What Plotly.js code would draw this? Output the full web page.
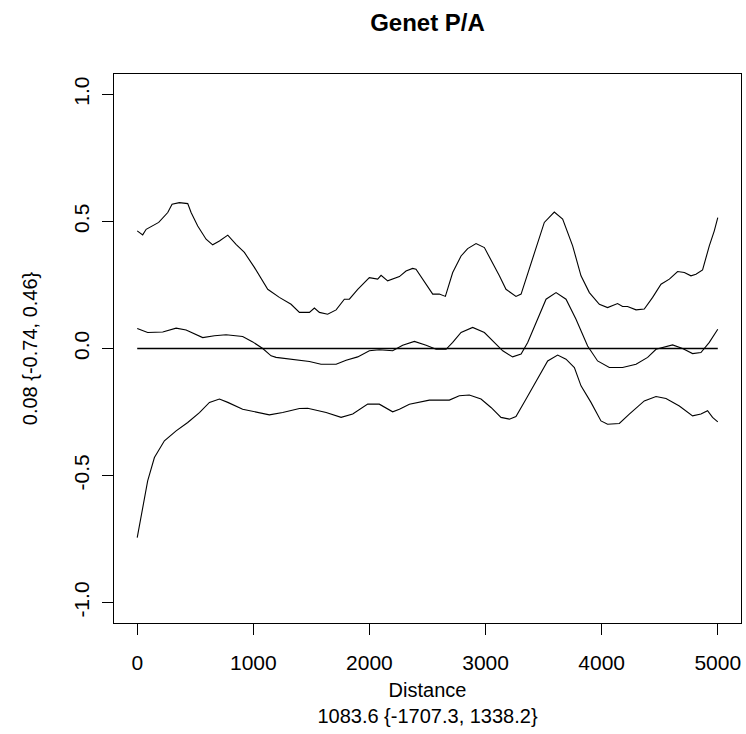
<!DOCTYPE html>
<html>
<head>
<meta charset="utf-8">
<script src="https://cdn.plot.ly/plotly-3.0.1.min.js"></script>
<style>html,body{margin:0;padding:0;background:#fff;}#chart{width:746px;height:734px;}</style>
</head>
<body>
<div id="chart"></div>
<script>
// Upper confidence envelope
const upperX = [0,47,77,185,263,300,363,435,464,521,593,650,708,780,851,923,1009,1124,1224,1325,1397,1483,1526,1569,1640,1713,1784,1827,1899,1999,2071,2100,2157,2258,2315,2372,2401,2458,2545,2602,2654,2717,2789,2846,2918,2990,3061,3119,3176,3262,3306,3349,3435,3506,3592,3664,3750,3822,3894,3980,4051,4137,4180,4223,4296,4367,4439,4511,4583,4654,4712,4769,4812,4869,4927,4970,5000];
const upperY = [0.463,0.447,0.469,0.496,0.535,0.568,0.574,0.570,0.535,0.482,0.430,0.408,0.423,0.446,0.410,0.378,0.319,0.233,0.201,0.174,0.142,0.142,0.159,0.142,0.135,0.152,0.194,0.194,0.233,0.279,0.273,0.288,0.266,0.283,0.305,0.315,0.312,0.273,0.214,0.214,0.205,0.299,0.364,0.393,0.413,0.397,0.338,0.286,0.233,0.205,0.214,0.273,0.391,0.496,0.537,0.509,0.404,0.286,0.220,0.174,0.161,0.177,0.165,0.165,0.152,0.155,0.201,0.253,0.273,0.303,0.299,0.286,0.292,0.309,0.404,0.463,0.515];

// Mean correlation
const meanX = [0,90,220,335,421,564,665,765,908,995,1081,1153,1196,1339,1483,1583,1713,1799,1899,1999,2085,2200,2286,2387,2488,2574,2660,2717,2789,2889,2990,3090,3148,3233,3306,3363,3435,3521,3607,3693,3779,3879,3965,4066,4180,4296,4396,4468,4611,4697,4783,4855,4927,5000];
const meanY = [0.079,0.063,0.065,0.080,0.073,0.043,0.050,0.054,0.047,0.026,0.000,-0.029,-0.035,-0.042,-0.051,-0.062,-0.062,-0.046,-0.033,-0.009,-0.005,-0.009,0.013,0.028,0.013,-0.003,-0.003,0.024,0.063,0.083,0.063,0.017,-0.009,-0.033,-0.022,0.024,0.102,0.194,0.220,0.194,0.115,0.010,-0.049,-0.075,-0.075,-0.062,-0.035,-0.003,0.014,0.000,-0.020,-0.016,0.024,0.076];

// Lower confidence envelope
const lowerX = [0,47,90,148,234,335,435,536,622,708,780,908,1024,1138,1253,1397,1468,1627,1756,1856,1985,2085,2200,2258,2344,2516,2688,2774,2860,2961,3047,3133,3205,3262,3349,3435,3535,3621,3693,3765,3822,3908,3994,4051,4152,4238,4367,4468,4554,4669,4783,4855,4912,4955,5000];
const lowerY = [-0.744,-0.619,-0.521,-0.429,-0.363,-0.324,-0.291,-0.252,-0.212,-0.199,-0.212,-0.239,-0.249,-0.261,-0.252,-0.236,-0.235,-0.252,-0.271,-0.258,-0.219,-0.219,-0.249,-0.239,-0.219,-0.203,-0.203,-0.186,-0.183,-0.199,-0.232,-0.271,-0.278,-0.268,-0.199,-0.127,-0.049,-0.026,-0.042,-0.075,-0.147,-0.212,-0.285,-0.298,-0.295,-0.258,-0.206,-0.189,-0.197,-0.226,-0.265,-0.258,-0.245,-0.271,-0.289];

const xTicks = [0,1000,2000,3000,4000,5000];
const yTicks = [-1,-0.5,0,0.5,1];
const yTickText = ["-1.0","-0.5","0.0","0.5","1.0"];

const titleText = "Genet P/A";
const xTitle = "Distance<br>1083.6 {-1707.3, 1338.2}";
const yTitle = "0.08 {-0.74, 0.46}";

const lineStyle = {color:'#000', width:1.1};
const refX = [meanX[0], meanX[meanX.length-1]];
const refY = [0, 0];

const traces = [
  {x: upperX, y: upperY, mode:'lines', line: lineStyle, hoverinfo:'skip'},
  {x: meanX, y: meanY, mode:'lines', line: lineStyle, hoverinfo:'skip'},
  {x: lowerX, y: lowerY, mode:'lines', line: lineStyle, hoverinfo:'skip'},
  {x: refX, y: refY, mode:'lines', line: {color:'#000', width:1.3}, hoverinfo:'skip'}
];

const font = {family:'Liberation Sans, Arial, sans-serif', color:'#000', size:20};

const layout = {
  width:746, height:734,
  margin:{l:114, r:5, t:74, b:111},
  paper_bgcolor:'#fff', plot_bgcolor:'#fff',
  showlegend:false,
  font: font,
  title:{text:'<b>'+titleText+'</b>', font:{family:'Liberation Sans, Arial, sans-serif', size:24, color:'#000'},
         xref:'paper', x:0.5, xanchor:'center', yref:'container', y:1-23/734, yanchor:'middle'},
  xaxis:{
    range:[-200,5200], tickvals:xTicks, ticktext:xTicks.map(String),
    ticks:'outside', ticklen:11, tickwidth:1, tickcolor:'#000',
    ticklabelstandoff:10,
    showline:true, linecolor:'#000', linewidth:1, mirror:true,
    showgrid:false, zeroline:false,
    tickfont:{size:21, color:'#000'},
    title:{text:xTitle, standoff:9, font:{size:20, color:'#000'}}
  },
  yaxis:{
    range:[-1.08,1.08], tickvals:yTicks, ticktext:yTickText, tickangle:-90,
    ticks:'outside', ticklen:11, tickwidth:1, tickcolor:'#000',
    ticklabelstandoff:5,
    showline:true, linecolor:'#000', linewidth:1, mirror:true,
    showgrid:false, zeroline:false,
    tickfont:{size:21, color:'#000'},
    title:{text:yTitle, standoff:26, font:{size:20, color:'#000'}}
  }
};

Plotly.newPlot('chart', traces, layout, {staticPlot:true, displayModeBar:false});
</script>
</body>
</html>
